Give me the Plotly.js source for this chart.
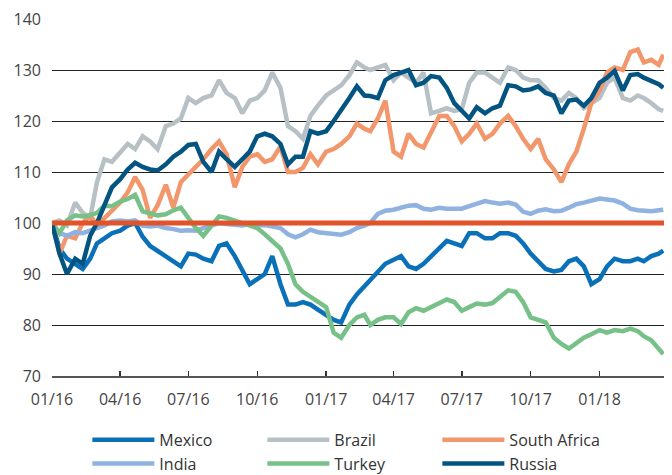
<!DOCTYPE html>
<html>
<head>
<meta charset="utf-8">
<script src="https://cdn.plot.ly/plotly-3.0.1.min.js"></script>
<style>
  html, body { margin: 0; padding: 0; background: #fff; }
  #myPlot { width: 672px; height: 475px; }
</style>
</head>
<body>
<div id="myPlot"></div>
<script>
// sample dates (1st, 11th, 21st of each month)
const dates = [
  '2016-01-01','2016-01-11','2016-01-21','2016-02-01','2016-02-11','2016-02-21',
  '2016-03-01','2016-03-11','2016-03-21','2016-04-01','2016-04-11','2016-04-21',
  '2016-05-01','2016-05-11','2016-05-21','2016-06-01','2016-06-11','2016-06-21',
  '2016-07-01','2016-07-11','2016-07-21','2016-08-01','2016-08-11','2016-08-21',
  '2016-09-01','2016-09-11','2016-09-21','2016-10-01','2016-10-11','2016-10-21',
  '2016-11-01','2016-11-11','2016-11-21','2016-12-01','2016-12-11','2016-12-21',
  '2017-01-01','2017-01-11','2017-01-21','2017-02-01','2017-02-11','2017-02-21',
  '2017-03-01','2017-03-11','2017-03-21','2017-04-01','2017-04-11','2017-04-21',
  '2017-05-01','2017-05-11','2017-05-21','2017-06-01','2017-06-11','2017-06-21',
  '2017-07-01','2017-07-11','2017-07-21','2017-08-01','2017-08-11','2017-08-21',
  '2017-09-01','2017-09-11','2017-09-21','2017-10-01','2017-10-11','2017-10-21',
  '2017-11-01','2017-11-11','2017-11-21','2017-12-01','2017-12-11','2017-12-21',
  '2018-01-01','2018-01-11','2018-01-21','2018-02-01','2018-02-11','2018-02-21',
  '2018-03-01','2018-03-11','2018-03-21','2018-03-27'
];

const mexico = [
  100, 95, 93, 92, 91, 93, 96, 97, 98, 98.5, 99.5, 100,
  97.3, 95.5, 94.5, 93.6, 92.5, 91.5, 94, 93.8, 93, 92.5, 95.5, 96,
  93.5, 90.5, 88, 89, 90, 93.5, 88, 84, 84, 84.5, 84, 83,
  82, 81, 80.5, 84, 86, 87.5, 89, 90.5, 92, 92.8, 93.5, 91.5,
  91, 92, 93.5, 95, 96.5, 96, 95.5, 98, 98, 97, 97, 98,
  98, 97.5, 96, 94, 92.5, 91, 90.5, 90.8, 92.5, 93, 91.5, 88,
  89, 91.5, 93, 92.5, 92.5, 93, 92.5, 93.5, 94, 94.6
];

const brazil = [
  100, 100.5, 99.5, 104, 102, 101, 108, 112.5, 112, 114, 115.5, 114.5,
  117, 116, 114.5, 119, 119.5, 120.5, 124.5, 123.5, 124.5, 125, 128, 125.5,
  124.5, 121.5, 124, 124.5, 126, 129.5, 126.5, 119, 118, 116.5, 121, 123,
  125, 126, 127, 129, 131.5, 130.5, 130, 130.5, 131, 128, 129.5, 128.5,
  127.5, 129.5, 121.5, 122, 122.5, 122, 122.3, 127.5, 129.5, 129.5, 128.5, 127.5,
  130.5, 130, 128.5, 128, 128, 126.5, 124.5, 124, 125.5, 124.5, 122.5, 123.5,
  124.5, 127.5, 128.5, 124.5, 124, 125, 124.5, 123.5, 122.3, 122
];

const southAfrica = [
  100, 94, 97.5, 97, 100, 101.5, 99.5, 101, 102.5, 104, 106, 109,
  106.5, 101, 103.5, 107.5, 103, 108, 109.5, 111, 112.5, 114.5, 116, 113.5,
  107, 111, 113, 113.5, 112, 112.5, 115, 110, 110, 110.8, 113.5, 111.5,
  114, 114.5, 115.5, 117, 119.5, 118.5, 118, 120.5, 124, 114, 113, 117.5,
  115.5, 114.8, 118, 121, 121, 119, 116, 117.5, 119.5, 116.5, 117.5, 119.5,
  121, 119, 116.5, 114.5, 116.5, 112.5, 110.5, 108, 111.5, 114, 118.5, 123.5,
  126, 129.5, 130.5, 130, 133.5, 134, 131.5, 132, 131, 133
];

const india = [
  100, 98, 97.5, 98.2, 98, 98.5, 99, 99.5, 100.3, 100.5, 100.3, 100.5,
  99.5, 99.3, 99.5, 99, 98.8, 98.5, 98.6, 98.5, 99, 99.5, 100, 99.8,
  99.7, 99.5, 99.8, 99.5, 99.6, 99.3, 99, 97.8, 97.2, 97.8, 98.7, 98.2,
  98, 97.8, 97.7, 98.2, 99, 99.5, 100, 101.8, 102.4, 102.6, 103, 103.4,
  103.5, 102.8, 102.6, 103, 102.8, 102.9, 102.8, 103.3, 103.8, 104.3, 104, 103.8,
  104, 103.6, 102.2, 101.8, 102.4, 102.7, 102.3, 102.4, 103, 103.7, 104, 104.3,
  104.8, 104.6, 104.4, 103.8, 102.8, 102.5, 102.4, 102.3, 102.5, 102.6
];

const turkey = [
  100, 98, 100.5, 101.5, 101.3, 101.5, 102, 103.4, 103.3, 104.2, 104.7, 105.5,
  102.3, 102, 101.5, 101.7, 102.5, 103, 101, 99, 97.5, 99.5, 101.3, 101,
  100.5, 100, 99.6, 99, 97.8, 96.5, 95, 92, 88, 86.5, 85.5, 84.6,
  83.5, 78.5, 77.5, 80, 81.5, 82, 80, 81, 81.5, 81.5, 80.2, 82.5,
  83.3, 82.8, 83.5, 84.2, 85, 84.5, 82.8, 83.5, 84.2, 84, 84.3, 85.5,
  86.8, 86.5, 84.5, 81.5, 81, 80.5, 77.5, 76.3, 75.4, 76.5, 77.5, 78.2,
  79, 78.5, 79, 78.8, 79.3, 78.8, 77.8, 77, 75.5, 74.3
];

const russia = [
  100, 94, 90, 93, 92, 97.5, 100, 103.5, 107, 108.6, 110.5, 111.8,
  111, 110.5, 110.3, 111.5, 113, 114, 115.3, 115.5, 112, 110, 114, 112.5,
  111, 112.5, 114, 117, 117.5, 117, 115.5, 111.5, 113, 113, 118, 117.5,
  118, 120, 122, 124.5, 126.8, 125, 124.9, 124.5, 128, 129, 129.5, 130,
  127, 127.5, 128.8, 128.5, 126.5, 123.5, 122, 120.5, 122.7, 121.5, 122.5, 123,
  127, 126.8, 126, 126.2, 126.8, 125.5, 125, 121.5, 124, 124.2, 123, 124.5,
  127.5, 128.5, 129.8, 126, 129, 129.2, 128.5, 127.8, 127.2, 126.5
];

const seriesNames = ['Mexico', 'Brazil', 'South Africa', 'India', 'Turkey', 'Russia'];
const seriesColors = ['#0a71b8', '#b6c0c5', '#f2976c', '#8fb2e1', '#77c088', '#035481'];
const seriesValues = [mexico, brazil, southAfrica, india, turkey, russia];

// reference level
const baseDates = ['2016-01-01', '2018-03-28'];
const baseValues = [100, 100];

const tickDates = ['2016-01-01','2016-04-01','2016-07-01','2016-10-01','2017-01-01',
                   '2017-04-01','2017-07-01','2017-10-01','2018-01-01'];
const tickLabels = ['01/16','04/16','07/16','10/16','01/17','04/17','07/17','10/17','01/18'];

const data = seriesNames.map((name, i) => ({
  x: dates,
  y: seriesValues[i],
  type: 'scatter',
  mode: 'lines',
  name: name,
  line: { color: seriesColors[i], width: 4.5 },
}));

data.push({
  x: baseDates,
  y: baseValues,
  type: 'scatter',
  mode: 'lines',
  showlegend: false,
  line: { color: '#e2532a', width: 5 },
});

const layout = {
  width: 672,
  height: 475,
  margin: { l: 52, r: 8, t: 19, b: 99 },
  paper_bgcolor: '#fff',
  plot_bgcolor: '#fff',
  font: { family: 'Open Sans, sans-serif', size: 15, color: '#333' },
  showlegend: true,
  xaxis: {
    type: 'date',
    range: ['2016-01-01', '2018-03-28'],
    tickvals: tickDates,
    ticktext: tickLabels,
    ticks: 'inside',
    ticklen: 5,
    tickwidth: 1.5,
    tickcolor: '#333',
    showgrid: false,
    showline: true,
    linecolor: '#555',
    linewidth: 2,
    zeroline: false,
    ticklabelstandoff: 8,
    tickfont: { size: 16, color: '#444' },
  },
  yaxis: {
    range: [70, 140],
    dtick: 10,
    tick0: 70,
    showgrid: true,
    gridcolor: '#222',
    gridwidth: 1,
    zeroline: false,
    showline: false,
    ticks: '',
    ticklabelstandoff: 10,
    tickfont: { size: 16, color: '#444' },
  },
  legend: {
    orientation: 'h',
    xref: 'container',
    yref: 'container',
    x: 0.13,
    xanchor: 'left',
    y: 0.11,
    yanchor: 'top',
    entrywidth: 98,
    entrywidthmode: 'pixels',
    itemwidth: 62,
    font: { size: 16, color: '#333' },
    tracegroupgap: 0,
  },
};

Plotly.newPlot('myPlot', data, layout, { displayModeBar: false, staticPlot: true });
</script>
</body>
</html>
